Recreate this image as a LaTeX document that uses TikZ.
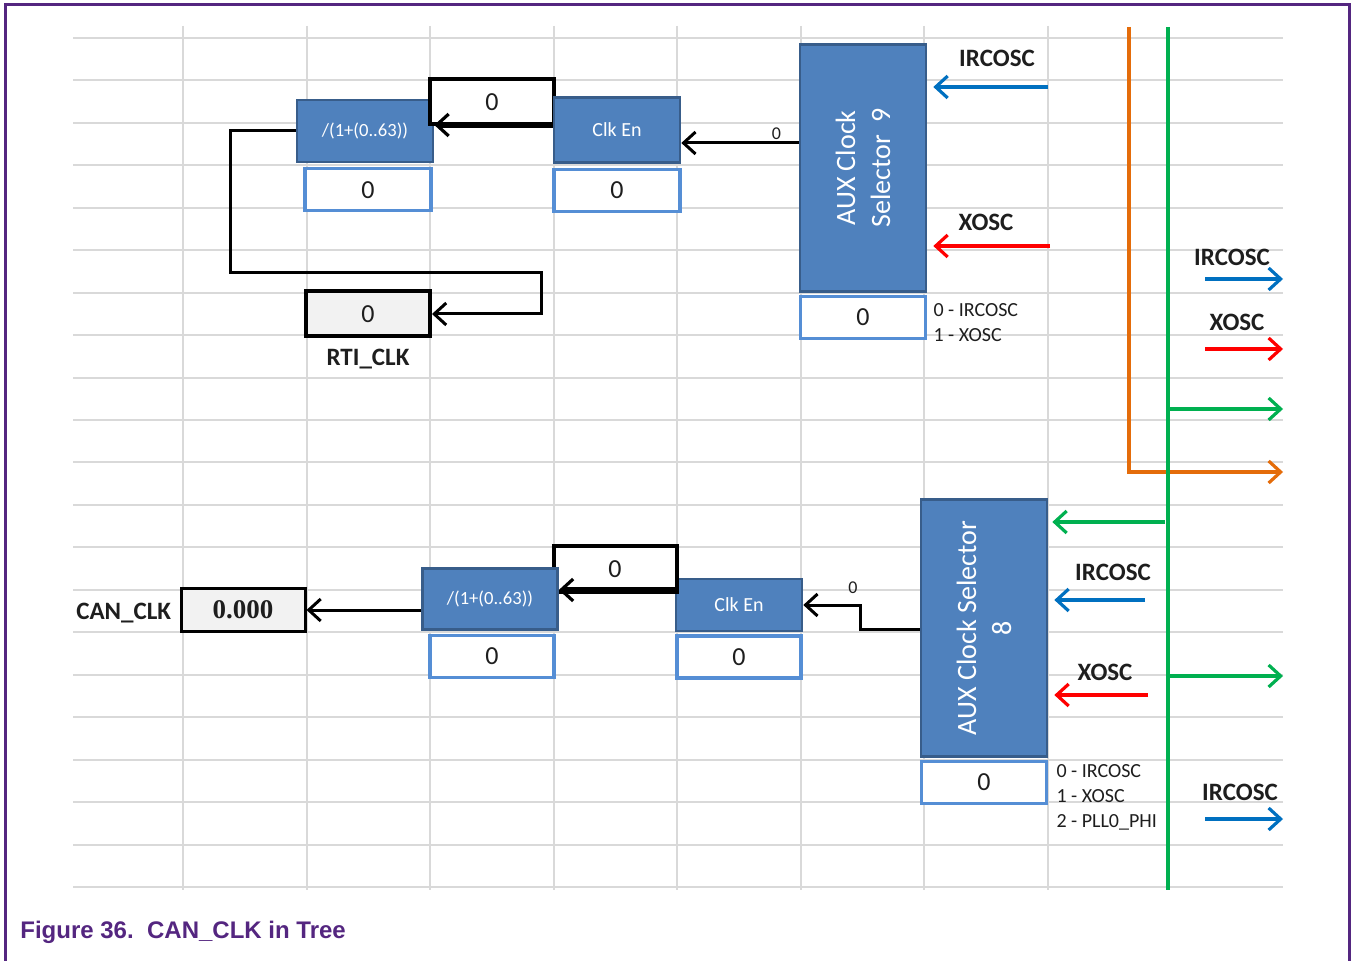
\documentclass[tikz,border=0pt]{standalone}
\usepackage{fontspec}
\setmainfont{Carlito}
\newfontfamily\capfont{Liberation Sans}
\newfontfamily\numfont{Liberation Serif}
\usetikzlibrary{arrows.meta,positioning}
\definecolor{selfill}{RGB}{79,129,189}
\definecolor{seldraw}{RGB}{56,93,138}
\definecolor{valdraw}{RGB}{85,142,213}
\definecolor{gridgray}{RGB}{217,217,217}
\definecolor{cellgray}{RGB}{242,242,242}
\definecolor{figpurple}{RGB}{84,38,128}
\definecolor{clkblue}{RGB}{0,112,192}
\definecolor{clkred}{RGB}{255,0,0}
\definecolor{clkgreen}{RGB}{0,176,80}
\definecolor{clkorange}{RGB}{228,108,10}
\definecolor{ink}{RGB}{30,30,30}
\tikzset{
  >={Straight Barb[length=6pt,width=11pt]},
  gridline/.style={draw=gridgray,line width=1pt},
  selbox/.style={draw=seldraw,fill=selfill,line width=1.3pt,text=white,inner sep=0pt,
    minimum width=#1},
  divbox/.style={selbox=68pt,minimum height=31pt,font=\fontsize{9.3}{11}\selectfont},
  enbox/.style={selbox=63pt,font=\fontsize{10}{12}\selectfont},
  auxbox/.style={selbox=63pt},
  auxtext/.style={rotate=90,text=white,align=center,font=\fontsize{14}{17.5}\selectfont},
  valbox/.style={draw=valdraw,fill=white,line width=1.6pt,inner sep=0pt,
    minimum width=#1,minimum height=21pt,text=ink,font=\fontsize{13}{15}\selectfont},
  valbox/.default=62.5pt,
  cellbox/.style={draw=black,line width=2pt,fill=#1,inner sep=0pt,minimum width=62pt,
    minimum height=22.5pt,text=ink,font=\fontsize{13}{15}\selectfont},
  cellbox/.default=white,
  lbl/.style={text=ink,font=\fontsize{12.5}{14}\selectfont\bfseries,inner sep=0pt},
  legend/.style={text=ink,align=left,inner sep=0pt,font=\fontsize{10}{12.5}\selectfont},
  tiny0/.style={text=ink,inner sep=1pt,font=\fontsize{9}{10}\selectfont},
  wire/.style={draw=black,line width=1.5pt},
  fatwire/.style={draw=black,line width=2.6pt,
    -{Straight Barb[length=6pt,width=11pt,line width=1.6pt]}},
  bus/.style={draw=#1,line width=1.6pt},
}
\begin{document}
\begin{tikzpicture}[x=0.5pt,y=-0.5pt]
\useasboundingbox (0,0) rectangle (1352,961);
% sheet grid
\foreach \i in {0,...,20} \draw[gridline] (73,38+42.45*\i) -- (1283,38+42.45*\i);
\foreach \x in {183,307,430,554,677,801,924,1048} \draw[gridline] (\x,26) -- (\x,890);
% frame
\draw[figpurple,line width=1.5pt] (5,961) -- (5,5) -- (1349,5) -- (1349,961);

% clock buses
\coordinate (orgtop) at (1129,27);
\coordinate (orgout) at (1283,472);
\coordinate (grntop) at (1168,27);
\coordinate (grnbot) at (1168,890);
\draw[bus=clkorange,->] (orgtop) |- (orgout);
\draw[bus=clkgreen] (grntop) -- (grnbot);
\draw[bus=clkgreen,->] (1168,409) -- (1283,409);
\draw[bus=clkgreen,->] (1168,676) -- (1283,676);

% upper branch
\node[divbox] (div9) at (365,131) {/(1+(0..63))};
\node[valbox=63pt,below=2pt of div9,xshift=1.5pt] (div9val) {0};
\node[cellbox] (sel9) at (492,102) {0};
\node[enbox,minimum height=32.5pt] (en9) at (617,130) {Clk En};
\node[valbox=63pt,below=2pt of en9] (en9val) {0};
\node[auxbox,minimum height=123.5pt] (aux9) at (863,168) {};
\node[auxtext] (aux9txt) at (aux9.center) {AUX Clock\\Selector~~9};
\node[valbox,below=1pt of aux9] (aux9val) {0};
\node[legend,right=3pt of aux9val,yshift=-2.5pt] (leg9) {0 - IRCOSC\\1 - XOSC};
\node[cellbox=cellgray] (rti) at (368,314) {0};
\node[lbl,below=5pt of rti] (rtilbl) {RTI\_CLK};

\draw[fatwire] ([yshift=2.5pt]en9.west) -- ([yshift=2.5pt]en9.west -| div9.east);
\draw[wire,->] ([yshift=-6.5pt]en9.east -| aux9.west) -- ([yshift=-6.5pt]en9.east)
  node[tiny0,above,pos=0.19] {0};
\coordinate (loop9) at (541,273);
\draw[wire,->] (div9.west) -- ++(-65,0) |- (loop9) |- (rti.east);

\coordinate (irc9in) at (1048,87);
\coordinate (xo9in) at (1050,246);
\draw[bus=clkblue,->,shorten >=3pt] (irc9in) -- (irc9in -| aux9.east);
\draw[bus=clkred,->,shorten >=3pt] (xo9in) -- (xo9in -| aux9.east);
\node[lbl] (irc9lbl) at (997,58) {IRCOSC};
\node[lbl] (xo9lbl) at (986,222) {XOSC};

% outputs on the right
\coordinate (ircout) at (1205,279);
\coordinate (xoout) at (1205,349);
\coordinate (ircout2) at (1205,819);
\draw[bus=clkblue,->] (ircout) -- ++(78,0);
\draw[bus=clkred,->] (xoout) -- ++(78,0);
\draw[bus=clkblue,->] (ircout2) -- ++(78,0);
\node[lbl] (irclbl) at (1232,257) {IRCOSC};
\node[lbl] (xolbl) at (1237,322) {XOSC};
\node[lbl] (irclbl2) at (1240,792) {IRCOSC};

% lower branch
\node[auxbox,minimum height=128.5pt] (aux8) at (984,628) {};
\node[auxtext] (aux8txt) at (aux8.center) {AUX Clock Selector\\8};
\node[valbox,below=1pt of aux8] (aux8val) {0};
\node[legend,anchor=north west] (leg8) at ([xshift=4pt,yshift=-2pt]aux8val.north east)
  {0 - IRCOSC\\1 - XOSC\\2 - PLL0\_PHI};
\node[enbox,minimum height=26pt] (en8) at (739,605) {Clk En};
\node[valbox=62pt,below=1pt of en8] (en8val) {0};
\node[cellbox,minimum width=61.5pt,minimum height=23pt] (sel8) at (615,569) {0};
\node[divbox,minimum width=67.5pt,minimum height=30.5pt] (div8) at (490,599) {/(1+(0..63))};
\node[valbox=62pt,below=1.5pt of div8,xshift=1pt] (div8val) {0};
\node[cellbox=cellgray,line width=1.5pt,minimum height=21.5pt,
  font=\numfont\bfseries\fontsize{13.5}{15}\selectfont] (can) at (243,610) {0.000};
\node[lbl,left=4pt of can,yshift=-1.5pt] (canlbl) {CAN\_CLK};

\draw[fatwire] ([yshift=7.5pt]en8.west) -- ([yshift=7.5pt]en8.west -| div8.east);
\draw[wire,->] (div8.west |- can.east) -- (can.east);
\coordinate (jog8) at (860,629);
\draw[wire,->] (jog8 -| aux8.west) -- (jog8) |- (en8.east);
\node[tiny0] (en8sel) at (853,588) {0};

\coordinate (grn8) at (1165,522);
\coordinate (irc8in) at (1145,600);
\coordinate (xo8in) at (1148,695);
\draw[bus=clkgreen,->,shorten >=2pt] (grn8) -- (grn8 -| aux8.east);
\draw[bus=clkblue,->,shorten >=3pt] (irc8in) -- (irc8in -| aux8.east);
\draw[bus=clkred,->,shorten >=3pt] (xo8in) -- (xo8in -| aux8.east);
\node[lbl] (irc8lbl) at (1113,572) {IRCOSC};
\node[lbl] (xo8lbl) at (1105,672) {XOSC};

% caption
\node[anchor=west,inner sep=0pt,text=figpurple,font=\capfont\bfseries\fontsize{12}{14}\selectfont]
  (caption) at (20,932) {Figure 36.\ \ CAN\_CLK in Tree};
\end{tikzpicture}
\end{document}
